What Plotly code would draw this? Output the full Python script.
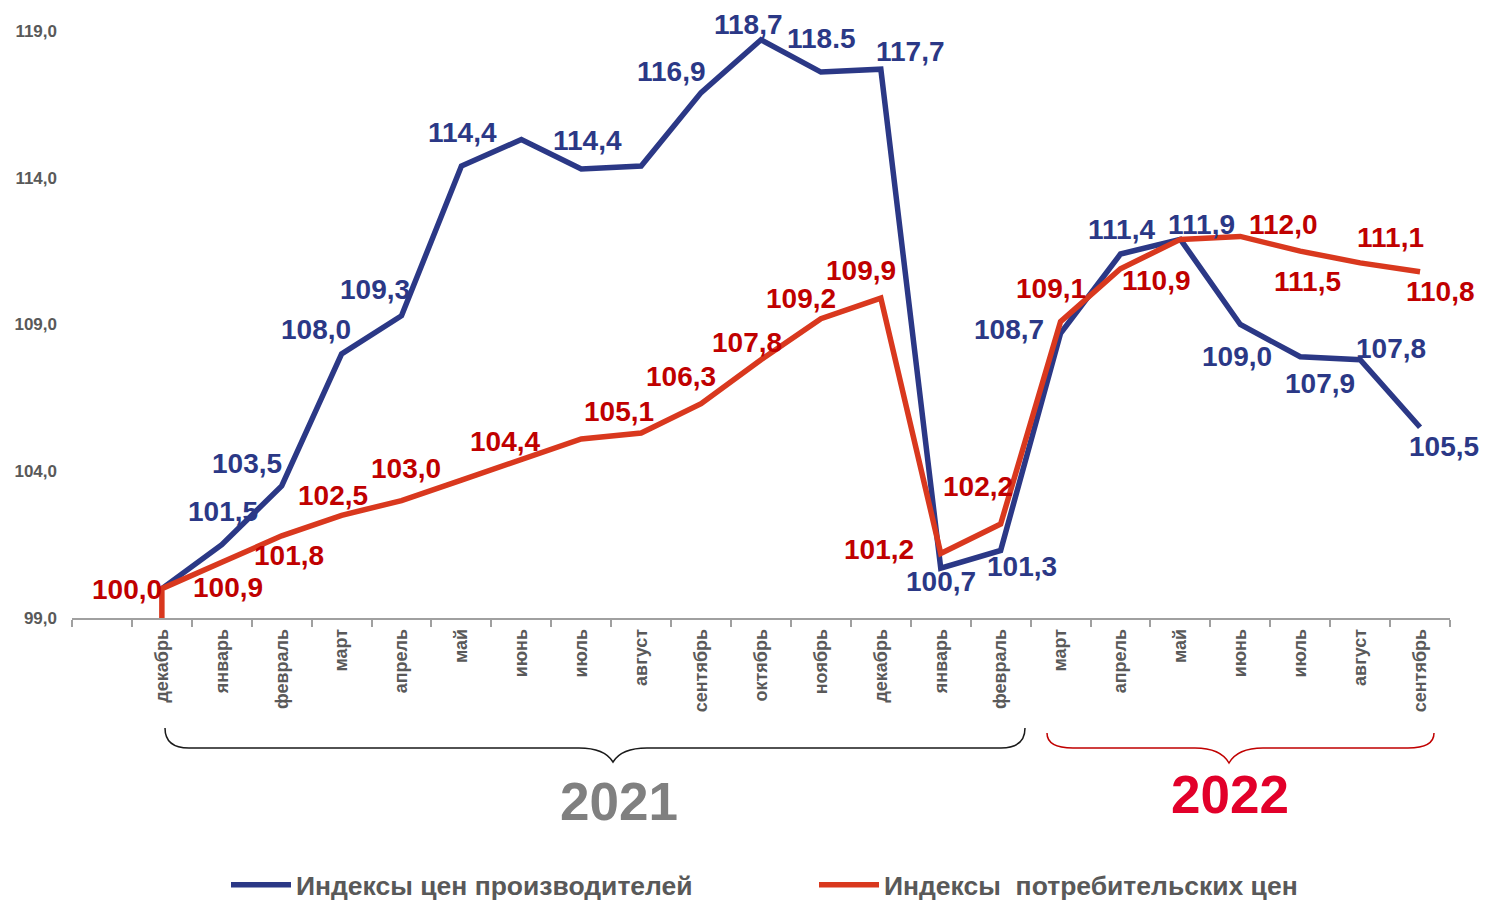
import plotly.graph_objects as go

# ---------------- data ----------------
months = ["", "декабрь", "январь", "февраль", "март", "апрель", "май", "июнь", "июль",
          "август", "сентябрь", "октябрь", "ноябрь", "декабрь", "январь", "февраль",
          "март", "апрель", "май", "июнь", "июль", "август", "сентябрь"]

producer = [100.0, 101.5, 103.5, 108.0, 109.3, 114.4, 115.3, 114.3, 114.4, 116.9, 118.7,
            117.6, 117.7, 100.7, 101.3, 108.7, 111.4, 111.9, 109.0, 107.9, 107.8, 105.5]
consumer = [100.0, 100.9, 101.8, 102.5, 103.0, 103.7, 104.4, 105.1, 105.3, 106.3, 107.8,
            109.2, 109.9, 101.2, 102.2, 109.1, 110.9, 111.9, 112.0, 111.5, 111.1, 110.8]
consumer_start = 99.0  # series starts at the baseline (vertical drop in the original)

producer_labels = [None, "101,5", "103,5", "108,0", "109,3", "114,4", None, "114,4", None,
                   "116,9", "118,7", "118.5", "117,7", "100,7", "101,3", "108,7", "111,4",
                   "111,9", "109,0", "107,9", "107,8", "105,5"]
consumer_labels = ["100,0", "100,9", "101,8", "102,5", "103,0", None, "104,4", "105,1", None,
                   "106,3", "107,8", "109,2", "109,9", "101,2", "102,2", "109,1", "110,9",
                   None, "112,0", "111,5", "111,1", "110,8"]

y_ticks = [99, 104, 109, 114, 119]
y_ticktext = ["99,0", "104,0", "109,0", "114,0", "119,0"]

series_names = ["Индексы цен производителей", "Индексы  потребительских цен"]
year_labels = ["2021", "2022"]

# ---------------- label offsets (pixels, style) ----------------
producer_dx = [0, 1, -35, -26, -27, 1, 0, 6, 0, -30, -13, 1, 30, 0, 21, -52, 1, 21, -3, 20, 31, 24]
producer_dy = [0, -33, -22, -24, -26, -34, 0, -28, 0, -21, -15, -34, -18, 13, 16, -4, -25, -15, 32, 27, -11, 19]
consumer_dx = [-35, 6, 7, -9, 4, 0, -16, 38, 0, -20, -14, -20, -20, -62, -23, -10, 36, 0, 43, 7, 30, 20]
consumer_dy = [1, 25, 20, -20, -32, 0, -18, -27, 0, -27, -17, -20, -28, -4, -38, -33, 12, 0, -12, 30, -25, 20]

BLUE = "#2b3886"
RED_LINE = "#d9381e"
RED_TXT = "#c00000"
GREY = "#595959"
FONT = "Liberation Sans, Arial, sans-serif"

W, H = 1486, 900
ML, MR, MT, MB = 72, 36, 31, 282
PW, PH = W - ML - MR, H - MT - MB


def px(xp):
    return (xp - ML) / PW


def py(yp):
    return (H - MB - yp) / PH


x_pos = list(range(1, len(producer) + 1))

fig = go.Figure()
fig.add_trace(go.Scatter(x=x_pos, y=producer, mode="lines", name=series_names[0],
                         line=dict(color=BLUE, width=5.5), cliponaxis=False))
fig.add_trace(go.Scatter(x=[x_pos[0]] + x_pos, y=[consumer_start] + consumer, mode="lines",
                         name=series_names[1], line=dict(color=RED_LINE, width=5.5),
                         cliponaxis=True))

annotations = []
for xv, yv, t, dx, dy in zip(x_pos, producer, producer_labels, producer_dx, producer_dy):
    if t:
        annotations.append(dict(x=xv, y=yv, xref="x", yref="y", text=t, showarrow=False,
                                xanchor="center", yanchor="middle",
                                xshift=dx, yshift=-dy,
                                font=dict(family=FONT, size=28, color=BLUE, weight="bold")))
for xv, yv, t, dx, dy in zip(x_pos, consumer, consumer_labels, consumer_dx, consumer_dy):
    if t:
        annotations.append(dict(x=xv, y=yv, xref="x", yref="y", text=t, showarrow=False,
                                xanchor="center", yanchor="middle",
                                xshift=dx, yshift=-dy,
                                font=dict(family=FONT, size=28, color=RED_TXT, weight="bold")))

annotations.append(dict(x=px(619), y=py(801), xref="paper", yref="paper", text=year_labels[0],
                        xanchor="center", yanchor="middle",
                        showarrow=False, font=dict(family=FONT, size=53, color="#808080", weight="bold")))
annotations.append(dict(x=px(1230), y=py(794), xref="paper", yref="paper", text=year_labels[1],
                        xanchor="center", yanchor="middle",
                        showarrow=False, font=dict(family=FONT, size=53, color="#e2002a", weight="bold")))


def brace(x0, x1, xm, ytop, yh, ytip, r, rm):
    pts = [
        f"M {px(x0)},{py(ytop)}",
        f"Q {px(x0)},{py(yh)} {px(x0 + r)},{py(yh)}",
        f"L {px(xm - rm)},{py(yh)}",
        f"Q {px(xm - rm * 0.25)},{py(yh)} {px(xm)},{py(ytip)}",
        f"Q {px(xm + rm * 0.25)},{py(yh)} {px(xm + rm)},{py(yh)}",
        f"L {px(x1 - r)},{py(yh)}",
        f"Q {px(x1)},{py(yh)} {px(x1)},{py(ytop)}",
    ]
    return " ".join(pts)


shapes = [
    dict(type="path", xref="paper", yref="paper", path=brace(165, 1025, 613, 728, 748, 762, 24, 34),
         line=dict(color="#1a1a1a", width=1.5)),
    dict(type="path", xref="paper", yref="paper", path=brace(1047, 1434, 1229, 733, 748, 763, 26, 34),
         line=dict(color="#c00000", width=1.5)),
]

fig.update_layout(
    width=W, height=H,
    margin=dict(l=ML, r=MR, t=MT, b=MB),
    paper_bgcolor="white", plot_bgcolor="white",
    showlegend=True,
    legend=dict(orientation="h", xref="container", yref="container",
                x=226 / W, y=(H - 885) / H, xanchor="left", yanchor="middle",
                entrywidth=513, entrywidthmode="pixels", itemwidth=60,
                font=dict(family=FONT, size=26.5, color=GREY, weight="bold"),
                bgcolor="rgba(0,0,0,0)"),
    annotations=annotations,
    shapes=shapes,
    xaxis=dict(range=[-0.5, len(months) - 0.5], tickmode="array",
               tickvals=list(range(len(months))), ticktext=months,
               tickangle=-90, ticks="", showgrid=False, zeroline=False,
               showline=True, linecolor="#a0a0a0", linewidth=1.5,
               tickfont=dict(family=FONT, size=18, color=GREY, weight="bold"),
               ticklabelstandoff=2,
               minor=dict(ticks="outside", tick0=-0.5, dtick=1, ticklen=7,
                          tickcolor="#a0a0a0", tickwidth=1.5, showgrid=False)),
    yaxis=dict(range=[99, 119], tickmode="array", tickvals=y_ticks, ticktext=y_ticktext,
               showgrid=False, zeroline=False, showline=False, ticks="",
               ticklabelstandoff=14,
               tickfont=dict(family=FONT, size=17, color=GREY, weight="bold")),
)

fig.write_html("out.html")
